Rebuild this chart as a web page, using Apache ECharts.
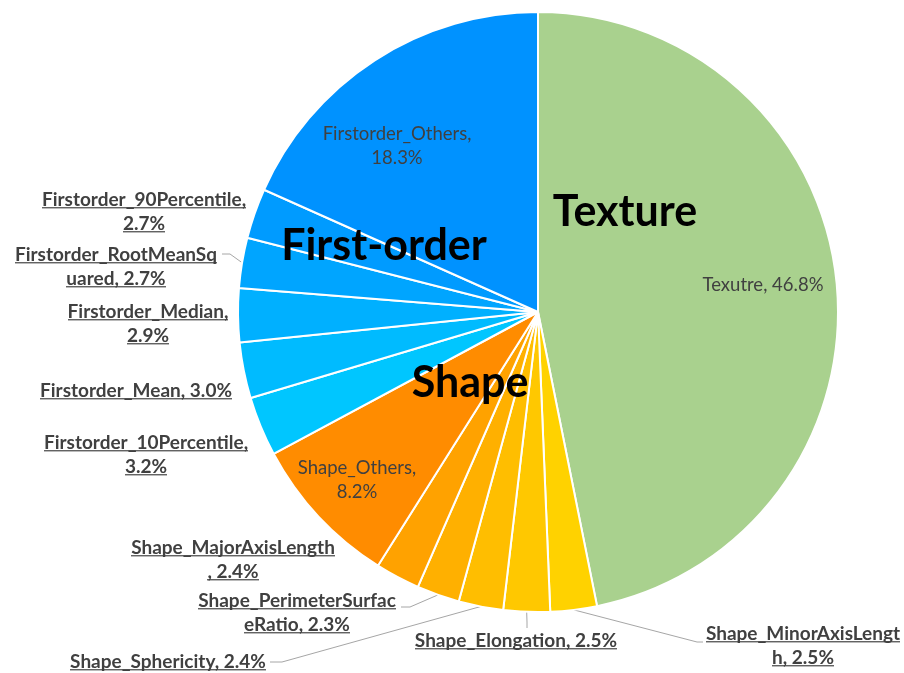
<!DOCTYPE html>
<html>
<head>
<meta charset="utf-8">
<script src="https://cdn.jsdelivr.net/npm/echarts@6/dist/echarts.min.js"></script>
<style>
  html, body { margin: 0; background: #fff; }
  #main { width: 904px; height: 673px; }
</style>
</head>
<body>
<div id="main"></div>
<script>
// slice names, clockwise from 12 o'clock
var names = ['Texutre', 'Shape_MinorAxisLength', 'Shape_Elongation', 'Shape_Sphericity',
  'Shape_PerimeterSurfaceRatio', 'Shape_MajorAxisLength', 'Shape_Others',
  'Firstorder_10Percentile', 'Firstorder_Mean', 'Firstorder_Median',
  'Firstorder_RootMeanSquared', 'Firstorder_90Percentile', 'Firstorder_Others'];
var values = [46.8, 2.5, 2.5, 2.4, 2.3, 2.4, 8.2, 3.2, 3.0, 2.9, 2.7, 2.7, 18.3];
// label text as wrapped in the picture
var labelText = ['Texutre, 46.8%', 'Shape_MinorAxisLengt\nh, 2.5%', 'Shape_Elongation, 2.5%',
  'Shape_Sphericity, 2.4%', 'Shape_PerimeterSurfac\neRatio, 2.3%', 'Shape_MajorAxisLength\n, 2.4%',
  'Shape_Others,\n8.2%', 'Firstorder_10Percentile,\n3.2%', 'Firstorder_Mean, 3.0%',
  'Firstorder_Median,\n2.9%', 'Firstorder_RootMeanSq\nuared, 2.7%', 'Firstorder_90Percentile,\n2.7%',
  'Firstorder_Others,\n18.3%'];
var groupNames = ['Texture', 'Shape', 'First-order'];

var colors = ['#A9D18E', '#FFD200', '#FFC800', '#FFBE00', '#FFB000', '#FFA200', '#FF8C00',
  '#00C6FF', '#00BBFF', '#00B0FF', '#00A5FF', '#009BFF', '#0092FF'];
var inside = [0, 6, 12];
// label centres (hand placed like the original)
var labelSpots = [[763, 285], [803, 646], [516, 641], [168, 662], [297, 613], [233, 560],
  [357, 480], [146, 455], [136, 391], [148, 324], [116, 267], [144, 212], [397, 146]];
// where a leader line ends next to its label
var leaderEnds = { 1: [[697, 642], [703, 642]], 2: [[527, 622], [527, 628]],
  3: [[282, 662], [270, 662]], 4: [[410, 607], [401, 607]], 10: [[230, 254], [222, 254]] };

var cx = 538, cy = 312, R = 300;

// underline image for rich text boxes
var LH = 24;
var uc = document.createElement('canvas');
uc.width = 4; uc.height = LH;
var ux = uc.getContext('2d');
ux.fillStyle = '#595959';
ux.fillRect(0, LH - 3, 4, 1.5);
var underline = uc.toDataURL();

var total = values.reduce(function (a, b) { return a + b; }, 0);
function edgePoint(i) {
  var before = 0;
  for (var k = 0; k < i; k++) before += values[k];
  var frac = (before + values[i] / 2) / total;
  var a = (90 - frac * 360) * Math.PI / 180;
  return [cx + R * Math.cos(a), cy - R * Math.sin(a)];
}

var data = names.map(function (n, i) {
  return {
    name: n,
    value: values[i],
    itemStyle: { color: colors[i] },
    labelLine: { show: !!leaderEnds[i] }
  };
});

var groupStyle = { fontFamily: 'Lato', fontWeight: 'bold', fontSize: 43, fill: '#000' };

var chart = echarts.init(document.getElementById('main'));
var option = {
  backgroundColor: '#fff',
  animation: false,
  series: [{
    type: 'pie',
    center: [cx, cy],
    radius: R,
    startAngle: 90,
    clockwise: true,
    data: data,
    itemStyle: { borderColor: '#fff', borderWidth: 2 },
    label: {
      show: true,
      position: 'outside',
      overflow: 'none',
      formatter: function (p) {
        var lines = labelText[p.dataIndex].split('\n');
        var tag = inside.indexOf(p.dataIndex) >= 0 ? 'n' : 'u';
        return lines.map(function (l) { return '{' + tag + '|' + l + '}'; }).join('\n');
      },
      rich: {
        u: {
          fontFamily: 'Lato', fontWeight: 'bold', fontSize: 19, color: '#404040',
          lineHeight: LH, backgroundColor: { image: underline }
        },
        n: {
          fontFamily: 'Lato', fontSize: 18.5, color: '#404040', lineHeight: LH
        }
      }
    },
    labelLine: { lineStyle: { color: '#A6A6A6', width: 1 }, length: 10, length2: 10 },
    labelLayout: function (p) {
      var i = p.dataIndex;
      var out = { x: labelSpots[i][0], y: labelSpots[i][1], align: 'center', verticalAlign: 'middle' };
      if (leaderEnds[i]) {
        out.labelLinePoints = [edgePoint(i), leaderEnds[i][0], leaderEnds[i][1]];
      }
      return out;
    }
  }],
  graphic: [
    { type: 'text', z: 100, x: 625, y: 212, style: Object.assign({ text: groupNames[0], align: 'center', verticalAlign: 'middle' }, groupStyle) },
    { type: 'text', z: 100, x: 470, y: 383, style: Object.assign({ text: groupNames[1], align: 'center', verticalAlign: 'middle' }, groupStyle) },
    { type: 'text', z: 100, x: 384, y: 246, style: Object.assign({ text: groupNames[2], align: 'center', verticalAlign: 'middle' }, groupStyle) }
  ]
};
chart.setOption(option);
</script>
</body>
</html>
